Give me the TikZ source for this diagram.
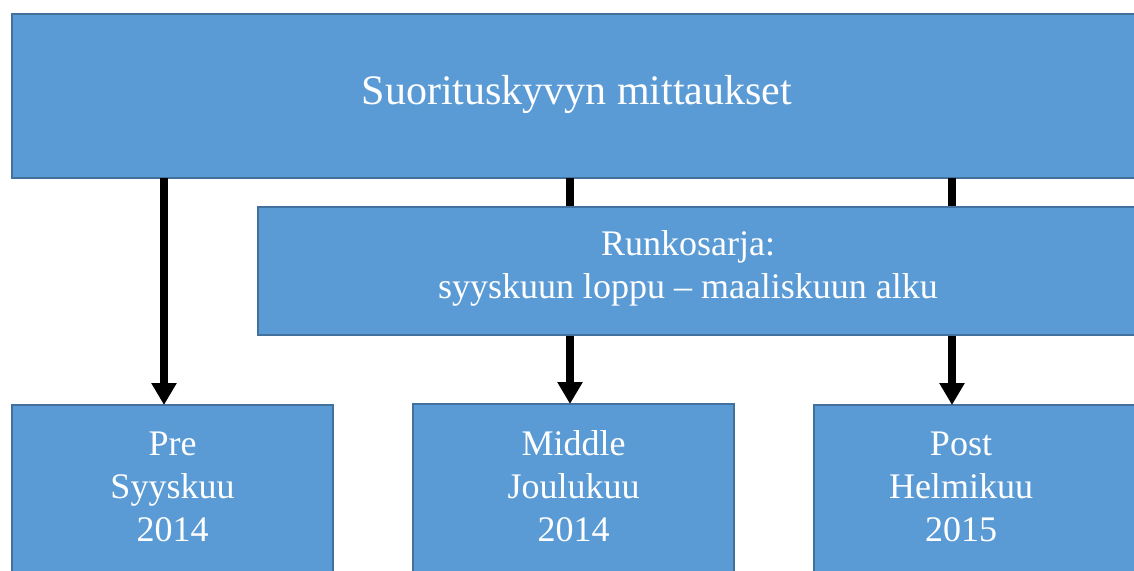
\documentclass[tikz,border=0pt]{standalone}
\usepackage{fontspec}
\setmainfont{Liberation Serif}
\usetikzlibrary{arrows.meta}
\definecolor{boxfill}{HTML}{5B9BD5}
\definecolor{boxline}{HTML}{41719C}
\begin{document}
\begin{tikzpicture}[x=1pt,y=-1pt,
  box/.style={draw=boxline, fill=boxfill, line width=2pt, rectangle, anchor=north west, inner sep=0pt, outer sep=0pt},
  lbl/.style={text=white, align=center, inner sep=0pt, font=\fontsize{36}{43}\selectfont},
  arr/.style={line width=8pt, -{Triangle[width=24pt,length=22pt]}}]
\useasboundingbox (0,0) rectangle (1134,570);
\node[box, minimum width=1131pt, minimum height=164pt] (top) at (12,14) {};
\node[box, minimum width=321pt, minimum height=168pt] (pre) at (12,405) {};
\node[box, minimum width=321pt, minimum height=169pt] (mid) at (413,404) {};
\node[box, minimum width=331pt, minimum height=168pt] (post) at (814,405) {};
\coordinate (a1) at (164,0);
\coordinate (a2) at (570,0);
\coordinate (a3) at (952,0);
\draw[arr] (a1 |- top.south) -- (a1 |- pre.north);
\draw[arr] (a2 |- top.south) -- (a2 |- mid.north);
\draw[arr] (a3 |- top.south) -- (a3 |- post.north);
\node[box, minimum width=887pt, minimum height=128pt] (run) at (258,207) {};
\node[lbl, font=\fontsize{42}{50}\selectfont] (toptext) at (577,94) {Suorituskyvyn mittaukset};
\node[lbl] (runtext) at (688,268) {Runkosarja:\\syyskuun loppu – maaliskuun alku};
\node[lbl] (pretext) at (172.5,487) {Pre\\Syyskuu\\2014};
\node[lbl] (midtext) at (573.5,486) {Middle\\Joulukuu\\2014};
\node[lbl] (posttext) at (961,487) {Post\\Helmikuu\\2015};
\end{tikzpicture}
\end{document}
